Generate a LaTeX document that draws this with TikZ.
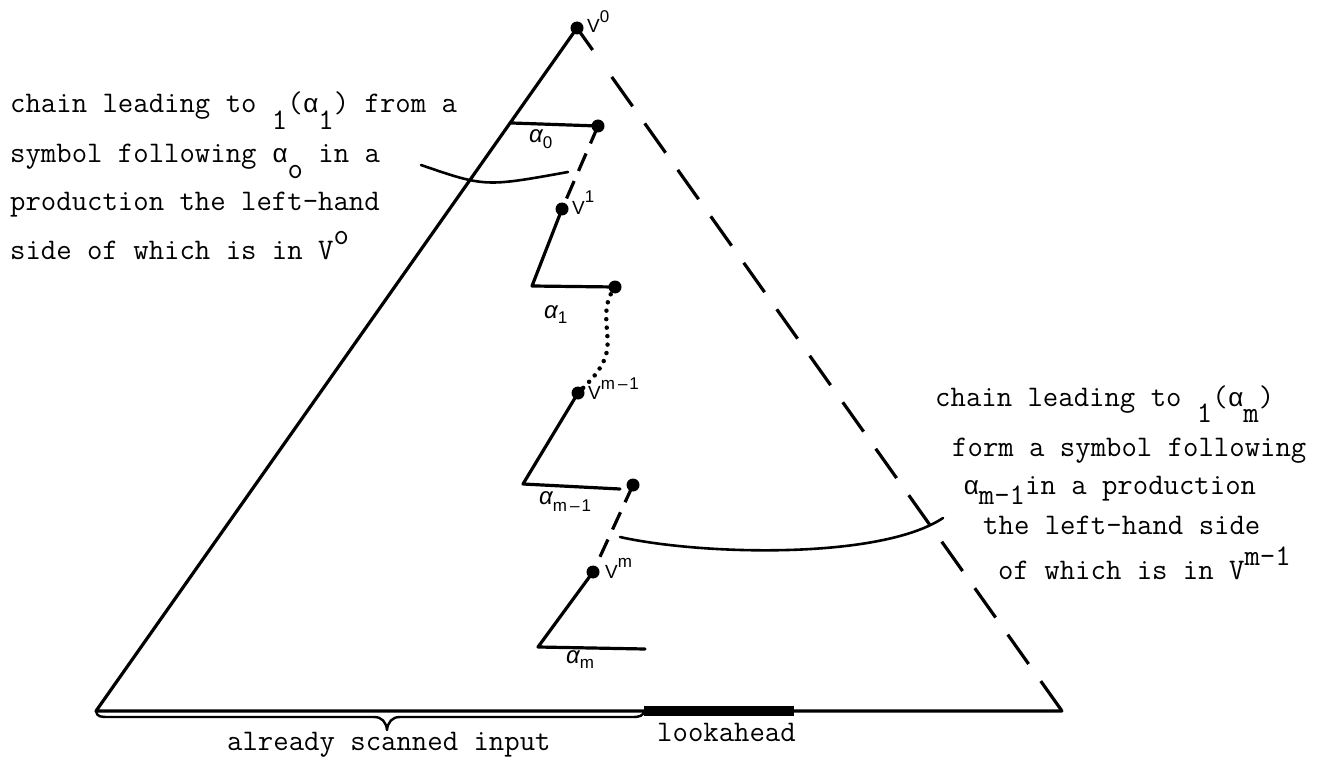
\documentclass[tikz,border=0pt]{standalone}
\usepackage{fontspec}
\newfontfamily\lab{Liberation Sans}
\newfontfamily\lmono{Liberation Mono}
\usetikzlibrary{calc}
\newcommand\tdn[2][17]{\raisebox{-#1pt}{#2}}
\newcommand\tup[2][14]{\raisebox{#1pt}{#2}}
\newcommand\ga{\makebox[15.7pt]{\lmono\fontsize{26}{26}\selectfont α}}
\newcommand\lsc[1]{{\fontsize{17}{17}\selectfont #1}}
\newcommand\la{{\itshape\fontsize{24}{24}\selectfont α}}
\newcommand\mmo{m\hspace{3pt}–\hspace{2pt}1}
\begin{document}
\begin{tikzpicture}[x=1pt,y=-1pt,
  typew/.style={font=\ttfamily\fontsize{29.9}{36}\selectfont, anchor=base west, inner sep=0pt},
  lbl/.style={font=\lab\fontsize{19}{19}\selectfont, anchor=base west, inner sep=0pt},
  dot/.style={circle, fill=black, inner sep=0pt, minimum size=13pt},
  solid line/.style={line width=3.2pt, line cap=round, line join=round},
  arcline/.style={line width=2.6pt, line cap=round},
  dashline/.style={line width=3.2pt, dash pattern=on 36pt off 21pt},
  shortdash/.style={line width=3.2pt, dash pattern=on 19pt off 11pt},
  dotline/.style={line width=4.5pt, line cap=round, dash pattern=on 0pt off 8.5pt}]
\useasboundingbox (0,0) rectangle (1323,762);
% main triangle
\node[dot] (v0) at (577,28) {};
\coordinate (bl) at (96,711);
\coordinate (br) at (1062,711);
\coordinate (la1) at (644,711);
\coordinate (la2) at (794,711);
\draw[solid line] (v0.center) -- (bl) -- (br);
\draw[line width=3.2pt] ($(v0)!6pt!(br)$) -- ($(v0)!27pt!(br)$);
\draw[dashline] ($(v0)!60pt!(br)$) -- (br);
\draw[line width=10pt] (la1) -- (la2);
% brace
\draw[line width=2.4pt, line cap=round, line join=round]
  (bl) .. controls (97,717) and (100,717) .. (110,717) -- (374,717)
  .. controls (382,717) and (386,722) .. (387,730)
  .. controls (388,722) and (392,717) .. (400,717) -- (632,717)
  .. controls (640,717) and (643,716) .. (la1);
% inner chain
\coordinate (a0s) at ($(v0)!0.139!(bl)$);
\node[dot] (a0d) at (598,126) {};
\node[dot] (v1) at (562,209) {};
\coordinate (c1) at (532,286);
\node[dot] (a1d) at (615,287) {};
\node[dot] (vm1) at (578,393) {};
\coordinate (c2) at (523,484);
\coordinate (e2) at (620,489);
\node[dot] (a2d) at (633,485) {};
\node[dot] (vm) at (593,572) {};
\coordinate (c3) at (538,647);
\coordinate (e3) at (645,649);
\draw[solid line] (a0s) -- (a0d.center);
\draw[shortdash] (a0d.center) -- (v1.center);
\draw[solid line] (v1.center) -- (c1) -- (a1d.center);
\draw[dotline] (a1d.center) .. controls (598,310) and (612,335) .. (606,355)
  .. controls (601,371) and (590,381) .. (vm1.center);
\draw[solid line] (vm1.center) -- (c2) -- (e2);
\draw[shortdash] (a2d.center) -- (vm.center);
\draw[solid line] (vm.center) -- (c3) -- (e3);
% arcs
\coordinate (la) at (421,165);
\coordinate (lb) at (568,172);
\draw[arcline] (la) .. controls (485,187) .. (lb);
\coordinate (ra) at (620,537);
\coordinate (rb) at (943,518);
\draw[arcline] (ra) .. controls (700,555) and (880,560) .. (rb);
% labels
\node[lbl] (lv0) at (587,33) {V\raisebox{10pt}{\lsc{0}}};
\node[lbl] (lv1) at (572,215) {V\raisebox{12pt}{\lsc{1}}};
\node[lbl] (lvm1) at (588,399) {V\raisebox{10pt}{\lsc{\mmo}}};
\node[lbl] (lvm) at (605,578) {V\raisebox{11pt}{\lsc{m}}};
\node[lbl] (la0) at (529,143) {\la\raisebox{-6pt}{\lsc{0}}};
\node[lbl] (la1l) at (544,318) {\la\raisebox{-5pt}{\lsc{1}}};
\node[lbl] (la2l) at (539,504) {\la\raisebox{-7pt}{\lsc{\mmo}}};
\node[lbl] (la3l) at (566,663) {\la\raisebox{-5pt}{\lsc{m}}};
% left text
\node[typew] (t1) at (10,113) {chain leading to \tdn{1}(\ga\tdn{1}) from a};
\node[typew] (t2) at (10,163) {symbol following \ga\tdn[16]{o} in a};
\node[typew] (t3) at (10,211) {production the left-hand};
\node[typew] (t4) at (10,259) {side of which is in V\tup{o}};
% right text
\node[typew] (r1) at (935,406) {chain leading to \tdn[16]{1}(\ga\tdn[16]{m})};
\node[typew] (r2) at (952,456) {form a symbol following};
\node[typew] (r3) at (963,494) {\ga\tdn[10]{m-1}in a production};
\node[typew] (r4) at (983,534) {the left-hand side};
\node[typew] (r5) at (998,579) {of which is in V\tup[14]{m-1}};
% bottom text
\node[typew] (bt1) at (227,750) {already scanned input};
\node[typew] (bt2) at (657,741) {lookahead};
\end{tikzpicture}
\end{document}
